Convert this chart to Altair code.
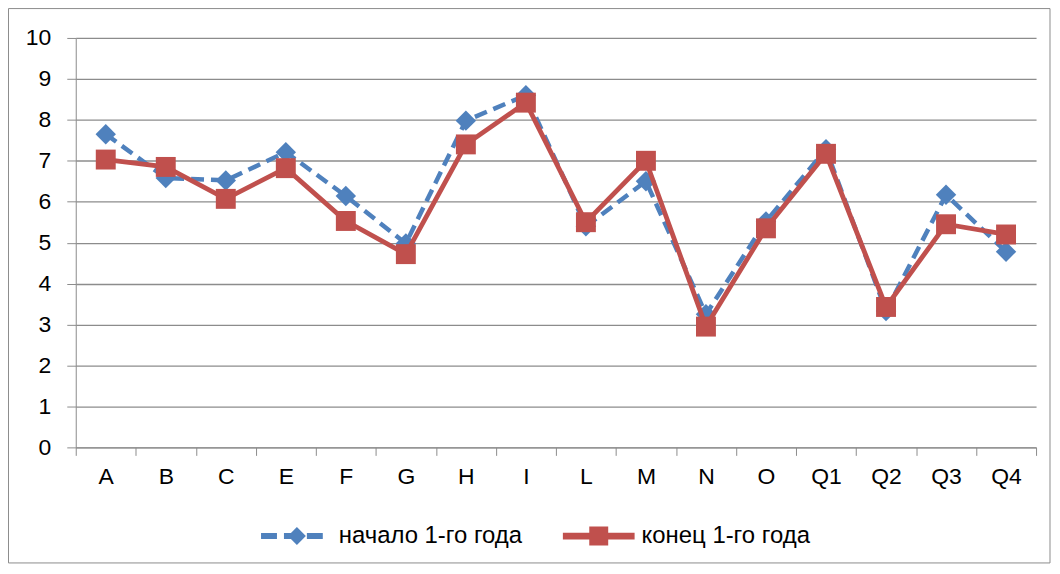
import altair as alt
import pandas as pd

categories = ["A", "B", "C", "E", "F", "G", "H", "I", "L", "M", "N", "O", "Q1", "Q2", "Q3", "Q4"]
start_year = [7.65, 6.58, 6.52, 7.21, 6.14, 4.98, 7.98, 8.6, 5.4, 6.5, 3.25, 5.52, 7.28, 3.33, 6.17, 4.78]
end_year = [7.03, 6.85, 6.07, 6.82, 5.53, 4.72, 7.4, 8.42, 5.5, 7.0, 2.95, 5.35, 7.17, 3.43, 5.45, 5.2]
series_names = ["начало 1-го года", "конец 1-го года"]
colors = ["#4F81BD", "#C0504D"]
y_ticks = list(range(0, 11))

rows = []
for name, vals in zip(series_names, [start_year, end_year]):
    for c, v in zip(categories, vals):
        rows.append({"cat": c, "value": v, "series": name})
df = pd.DataFrame(rows)

W, H = 964, 411
FONT = "Liberation Sans"
GRID = "#8C8C8C"

x_enc = alt.X("cat:N", sort=categories, bandPosition=0.5,
              scale=alt.Scale(type="band", paddingInner=0, paddingOuter=0),
              axis=alt.Axis(title=None, labelAngle=0, tickBand="extent", tickSize=8,
                            tickColor=GRID, domainColor=GRID, labelPadding=10,
                            labelFontSize=23, labelFont=FONT, labelColor="#000000", grid=False))
y_enc = alt.Y("value:Q", scale=alt.Scale(domain=[0, 10], nice=False),
              axis=alt.Axis(title=None, values=y_ticks, tickSize=9, tickColor=GRID,
                            domainColor=GRID, gridColor=GRID, gridWidth=1.3, grid=True,
                            labelPadding=16, labelFontSize=23, labelFont=FONT,
                            labelColor="#000000"))

base = alt.Chart(df)

# outer frame
frame = alt.Chart(pd.DataFrame({"k": [0]})).mark_rect(fill=None, stroke="#8C8C8C", strokeWidth=1).encode(
    x=alt.value(-67.5), x2=alt.value(W + 14), y=alt.value(-29.5), y2=alt.value(H + 116)
)

blue = series_names[0]
red = series_names[1]

blue_line = base.transform_filter(alt.datum.series == blue).mark_line(
    color=colors[0], strokeWidth=4.5, strokeDash=[13, 7]).encode(x=x_enc, y=y_enc)
blue_pts = base.transform_filter(alt.datum.series == blue).mark_point(
    shape="diamond", filled=True, size=420, color=colors[0], opacity=1).encode(x=x_enc, y=y_enc)
red_line = base.transform_filter(alt.datum.series == red).mark_line(
    color=colors[1], strokeWidth=4.8).encode(x=x_enc, y=y_enc)
red_pts = base.transform_filter(alt.datum.series == red).mark_point(
    shape="square", filled=True, size=400, color=colors[1], opacity=1).encode(x=x_enc, y=y_enc)

# legend-only layer (no data rows), symbols as custom paths
blue_path = ("M-0.972,-0.083L-0.528,-0.083L-0.528,0.083L-0.972,0.083Z"
             "M-0.333,-0.083L-0.139,-0.083L-0.139,0.083L-0.333,0.083Z"
             "M0.028,-0.25L0.278,0L0.028,0.25L-0.222,0Z"
             "M0.306,-0.083L0.75,-0.083L0.75,0.083L0.306,0.083Z")
red_path = ("M-1,-0.093L1,-0.093L1,0.093L-1,0.093Z"
            "M-0.264,-0.264L0.264,-0.264L0.264,0.264L-0.264,0.264Z")

legend_layer = base.transform_filter("false").mark_point(filled=True, opacity=1).encode(
    x=x_enc, y=y_enc,
    color=alt.Color("series:N", scale=alt.Scale(domain=series_names, range=colors),
                    legend=alt.Legend(title=None)),
    shape=alt.Shape("series:N", scale=alt.Scale(domain=series_names, range=[blue_path, red_path]),
                    legend=alt.Legend(title=None)),
)

chart = alt.layer(frame, blue_line, blue_pts, red_line, red_pts, legend_layer).properties(
    width=W, height=H,
    autosize=alt.AutoSizeParams(type="none"),
    padding={"left": 68, "top": 29, "right": 16, "bottom": 118},
).configure_view(stroke=None).configure_legend(
    orient="none", legendX=185, legendY=464, direction="horizontal",
    symbolSize=5184, symbolStrokeWidth=0, labelFontSize=24, labelFont=FONT,
    labelColor="#000000", labelOffset=7, columnPadding=40, padding=0,
    symbolOpacity=1, labelLimit=500,
)

chart.save("out.html", embed_options={"renderer": "svg", "actions": False})
